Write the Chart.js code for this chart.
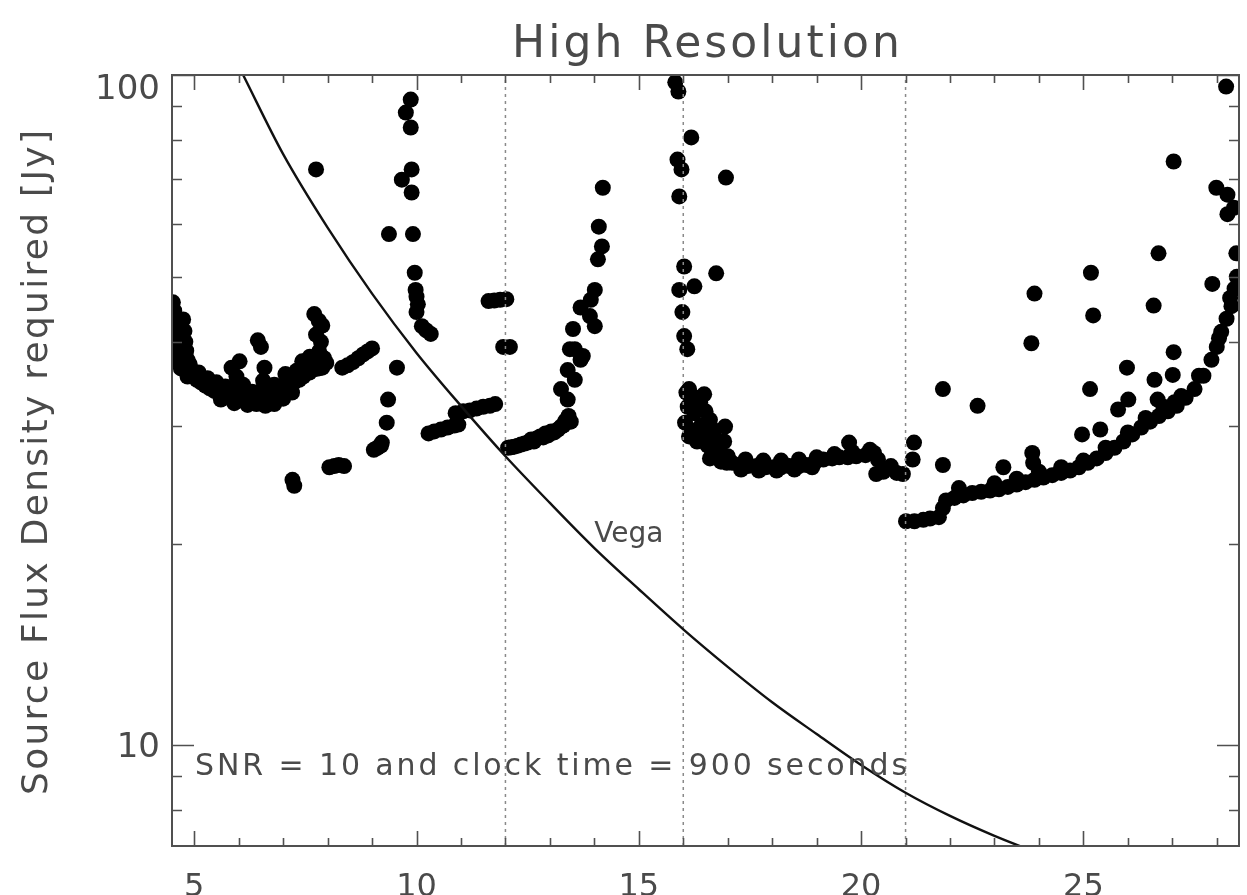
<!DOCTYPE html>
<html>
<head>
<meta charset="utf-8">
<title>High Resolution</title>
<script src="https://cdn.jsdelivr.net/npm/chart.js@4.4.1/dist/chart.umd.min.js"></script>
<style>
  html, body { margin: 0; padding: 0; background: #fff; }
  canvas { display: block; }
</style>
</head>
<body>
<canvas id="chart" width="1247" height="895"></canvas>
<script>
// axis ticks (micron / Jy)
const xTicks = [5, 10, 15, 20, 25];
const yTicks = [10, 100];
const yMinorTicks = [8, 9, 20, 30, 40, 50, 60, 70, 80, 90];
// order boundaries drawn as dotted lines
const orderEdges = [12, 16, 21];

// Vega spectrum
const vegaWave = [6.1, 7, 8, 9, 10, 11, 12, 13, 14, 15, 16, 17, 18, 19, 20, 21, 22, 23, 24];
const vegaJy = [100, 76.2, 59.2, 47.2, 38.5, 32.1, 27.0, 23.0, 19.7, 17.1, 14.9, 13.1, 11.6, 10.4, 9.35, 8.5, 7.85, 7.33, 6.9];

// required source flux per wavelength (black dots)
const fluxWave = [
  // short-wavelength band
  4.52, 4.55, 4.57, 4.60, 4.62, 4.58, 4.62, 4.66, 4.70, 4.75, 4.78, 4.80, 4.82, 4.85, 4.88, 4.93,
  4.52, 4.53, 4.55, 4.60, 4.70, 4.85, 4.68, 4.90, 4.97,
  5.00, 5.06, 5.15, 5.25, 5.35, 5.45, 5.55, 5.64, 5.75, 5.84, 5.96, 6.05, 6.15, 6.25, 6.35, 6.47,
  6.58, 6.68, 6.76, 6.86, 6.98, 7.06, 7.14, 7.25, 7.36, 7.45, 7.52, 7.59, 7.70, 7.80, 7.88, 7.97,
  5.10, 5.30, 5.50, 5.70, 5.90, 6.10, 6.30, 6.50, 6.70, 6.90, 7.10, 7.30, 7.50, 7.70, 7.90,
  5.60, 5.90, 6.20, 6.40, 6.60, 6.80, 7.00, 7.20,
  5.84, 6.02, 5.95, 6.10, 6.43, 6.50, 6.58, 6.55, 6.80, 7.05, 7.30, 7.43, 7.60, 7.70, 7.80, 7.88,
  7.74, 7.85, 7.81, 7.92,
  7.74, 7.21, 7.25, 8.04, 8.15, 8.25, 8.37,
  8.33, 8.45, 8.57, 8.69, 8.80, 8.90, 9.00,
  9.04, 9.12, 9.20, 9.22, 9.33, 9.36, 9.56,
  9.87, 9.76, 9.87, 9.89, 9.67, 9.89, 9.38, 9.92, 9.96, 9.98, 10.00, 10.00, 10.03, 10.12, 10.22, 10.32,
  10.27, 10.40, 10.55, 10.70, 10.85, 10.94,
  10.88, 11.05, 11.20, 11.35, 11.50, 11.65, 11.77,
  11.62, 11.75, 11.88, 12.02, 11.95, 12.10,
  // 12-16 micron order
  12.06, 12.20, 12.35, 12.50, 12.58, 12.70, 12.85, 12.96, 13.10, 13.25, 13.35, 13.47,
  12.13, 12.28, 12.43, 12.64, 12.78, 12.90, 13.03, 13.18, 13.30, 13.42,
  13.40, 13.25, 13.56, 13.40, 13.69, 13.45, 13.74, 13.56, 13.52, 13.69, 13.90, 14.01, 13.92, 14.01,
  14.08, 14.17, 14.10, 14.19,
  // 16-21 micron order
  15.82, 15.89, 16.18, 15.87, 15.96, 16.96, 15.91, 16.02, 16.74, 16.25, 15.91, 15.98, 16.02, 16.09,
  16.13, 16.07, 16.47, 16.38, 16.25, 16.04, 16.60, 16.40, 16.20, 16.13, 16.50, 16.31, 16.94, 16.70,
  16.10, 16.30, 16.50, 16.70, 16.35, 16.55, 16.80, 16.60, 16.85,
  16.92, 16.65, 16.80, 16.98, 17.10, 17.27, 17.45, 17.65, 17.85, 18.03, 18.20, 18.39, 18.60, 18.77,
  18.95, 19.15, 19.35, 19.51, 19.70, 19.89, 20.10, 20.29, 19.73, 20.38, 20.34, 20.50, 20.67, 20.80,
  17.00, 17.40, 17.80, 18.20, 18.60, 19.00, 19.40, 19.80, 20.20, 17.30, 17.70, 18.10, 18.50, 18.90,
  20.94, 21.19, 21.16,
  // long-wavelength order
  21.01, 21.20, 21.40, 21.55, 21.75, 21.84, 21.91, 22.10, 22.30, 22.50, 22.70, 22.90, 23.10, 23.30,
  23.50, 23.70, 23.90, 24.10, 24.30, 24.50, 24.70, 24.90, 25.10, 25.30, 25.50, 25.70, 25.90, 26.10,
  26.30, 26.50, 26.70, 26.90, 27.10, 27.30, 27.50, 27.70, 27.88, 28.00, 28.10, 28.22, 28.33, 28.40,
  28.45,
  22.20, 23.00, 23.50, 24.00, 24.50, 25.00, 25.50, 26.00, 26.40, 26.80, 27.20, 27.60, 28.05, 28.30,
  21.84, 22.62, 21.84, 23.20, 23.85, 23.87, 23.83, 23.90, 24.97, 25.38, 25.15, 25.22, 25.17, 25.78,
  26.01, 25.98, 26.67, 26.60, 26.58, 26.69, 27.05, 27.01, 27.03, 27.03, 27.90, 27.99, 28.24, 28.39,
  28.24, 28.44, 28.21
];
const fluxJy = [
  45.8, 44.5, 43.2, 42.0, 41.0, 40.0, 39.0, 38.0, 37.2, 43.2, 41.5, 40.0, 38.8, 37.6, 36.7, 36.0,
  43.0, 41.0, 39.0, 37.5, 36.5, 35.5, 38.5, 37.0, 35.8,
  35.5, 35.1, 34.8, 34.4, 34.1, 33.8, 33.5, 33.4, 33.2, 33.0, 33.0, 32.8, 32.6, 32.6, 32.8, 33.0,
  32.9, 32.7, 32.6, 33.0, 33.4, 33.9, 34.3, 34.8, 35.1, 35.5, 35.9, 36.0, 36.4, 36.5, 36.6, 37.2,
  36.0, 35.3, 34.8, 34.3, 34.0, 33.8, 33.7, 33.8, 33.9, 34.3, 35.0, 35.8, 36.6, 37.2, 37.8,
  32.8, 32.4, 32.2, 32.3, 32.1, 32.3, 32.9, 33.6,
  36.6, 37.4, 35.5, 34.5, 40.2, 39.3, 36.6, 35.0, 34.5, 35.8, 36.2, 37.4, 38.0, 44.0, 43.0, 42.3,
  41.0, 40.0, 38.7, 37.8,
  72.3, 24.9, 24.4, 26.0, 26.1, 26.2, 26.1,
  36.6, 36.9, 37.3, 37.8, 38.3, 38.7, 39.1,
  27.6, 27.8, 28.0, 28.3, 30.3, 32.8, 36.6,
  91.9, 87.9, 83.5, 72.3, 69.8, 66.8, 57.9, 57.9, 50.7, 47.8, 46.7, 44.3, 45.5, 42.2, 41.6, 41.1,
  29.2, 29.4, 29.6, 29.8, 30.0, 30.1,
  31.3, 31.5, 31.6, 31.8, 32.0, 32.1, 32.3,
  46.0, 46.1, 46.2, 46.3, 39.3, 39.3,
  27.8, 27.9, 28.1, 28.3, 28.6, 28.7, 28.8, 29.0, 29.3, 29.9, 30.5, 30.4,
  27.85, 28.0, 28.2, 28.4, 28.9, 29.2, 29.4, 29.6, 30.0, 31.0,
  32.8, 34.0, 35.1, 36.3, 37.6, 39.0, 38.1, 39.0, 41.8, 45.0, 43.7, 42.2, 46.2, 47.8,
  53.1, 55.5, 59.4, 67.9,
  97.5, 94.5, 80.7, 74.8, 72.3, 70.3, 65.9, 51.8, 50.6, 48.4, 47.8, 44.3, 40.8, 39.0,
  34.0, 33.6, 33.4, 32.5, 31.3, 30.3, 30.6, 30.0, 29.5, 28.9, 29.0, 28.4, 29.9, 28.5,
  32.0, 33.0, 31.5, 29.5, 29.2, 28.0, 28.0, 26.8, 26.5,
  28.4, 27.6, 27.0, 26.4, 26.4, 26.2, 26.1, 26.1, 26.0, 26.0, 26.0, 26.1, 26.1, 26.2,
  26.4, 26.7, 26.8, 26.9, 26.9, 27.0, 27.1, 27.3, 28.3, 26.7, 25.4, 25.6, 26.1, 25.5,
  27.0, 26.7, 26.6, 26.6, 26.7, 26.9, 27.2, 27.4, 27.6, 25.8, 25.7, 25.7, 25.8, 26.0,
  25.4, 28.3, 26.7,
  21.6, 21.6, 21.7, 21.8, 21.9, 22.6, 23.2, 23.4, 23.6, 23.8, 23.9, 24.0, 24.1, 24.3,
  24.5, 24.7, 24.9, 25.1, 25.3, 25.5, 25.7, 26.0, 26.4, 26.8, 27.3, 27.8, 28.4, 29.1,
  29.8, 30.4, 31.0, 31.5, 32.1, 33.0, 34.0, 35.6, 37.6, 39.3, 41.4, 43.3, 45.2, 48.0,
  50.0,
  24.2, 24.6, 25.0, 25.6, 26.0, 26.6, 27.8, 29.3, 30.8, 32.0, 33.2, 35.6, 40.5, 46.5,
  34.0, 32.1, 26.2, 26.0, 27.3, 26.4, 39.8, 47.2, 29.1, 29.6, 34.0, 43.8, 50.7, 31.7,
  32.8, 36.6, 32.8, 35.1, 45.3, 54.2, 32.5, 35.7, 38.6, 74.3, 48.8, 67.9, 66.3, 63.4,
  62.0, 54.2, 96.1
];

const X_MIN = 4.5, X_MAX = 28.5, Y_MIN = 7.08, Y_MAX = 100;
const INK = '#4a4a4a';
const FAMILY = '"DejaVu Sans", "Liberation Sans", sans-serif';

// write text starting at x, stretched or squeezed to a given width
function spacedText(ctx, text, x, y, width) {
  ctx.letterSpacing = '0px';
  const w = ctx.measureText(text).width;
  ctx.letterSpacing = ((width - w) / (text.length - 1)).toFixed(2) + 'px';
  ctx.fillText(text, x, y);
  ctx.letterSpacing = '0px';
}

const idlFrame = {
  id: 'idlFrame',
  afterDatasetsDraw(chart) {
    const { ctx, chartArea: a, scales: { x, y } } = chart;
    ctx.save();
    ctx.strokeStyle = '#505050';
    ctx.lineWidth = 2;
    ctx.strokeRect(a.left, a.top, a.right - a.left, a.bottom - a.top);

    // inward ticks, IDL style
    ctx.lineWidth = 1.6;
    ctx.beginPath();
    for (let v = Math.ceil(X_MIN); v <= X_MAX; v++) {
      const px = Math.round(x.getPixelForValue(v)) + 0.5;
      const len = xTicks.includes(v) ? 15 : 8;
      ctx.moveTo(px, a.bottom); ctx.lineTo(px, a.bottom - len);
      ctx.moveTo(px, a.top); ctx.lineTo(px, a.top + len);
    }
    yTicks.concat(yMinorTicks).forEach(v => {
      const py = Math.round(y.getPixelForValue(v)) + 0.5;
      const len = yTicks.includes(v) ? 22 : 10;
      ctx.moveTo(a.left, py); ctx.lineTo(a.left + len, py);
      ctx.moveTo(a.right, py); ctx.lineTo(a.right - len, py);
    });
    ctx.stroke();

    // y tick labels
    ctx.fillStyle = INK;
    ctx.font = '34px ' + FAMILY;
    ctx.textAlign = 'right';
    ctx.textBaseline = 'middle';
    yTicks.forEach(v => {
      const py = y.getPixelForValue(v) + (v === Y_MAX ? 15 : 3);
      ctx.fillText(String(v), 160, py);
    });

    // titles and notes
    ctx.textAlign = 'left';
    ctx.textBaseline = 'alphabetic';
    ctx.font = '44px ' + FAMILY;
    spacedText(ctx, 'High Resolution', 512, 57, 388);

    ctx.font = '30px ' + FAMILY;
    spacedText(ctx, 'SNR = 10 and clock time = 900 seconds',
      x.getPixelForValue(5.02), y.getPixelForValue(9.04), 712);
    ctx.font = '28px ' + FAMILY;
    ctx.fillText('Vega', x.getPixelForValue(14.0), y.getPixelForValue(20.1));

    ctx.save();
    ctx.translate(47, 795);
    ctx.rotate(-Math.PI / 2);
    ctx.font = '36px ' + FAMILY;
    spacedText(ctx, 'Source Flux Density required [Jy]', 0, 0, 665);
    ctx.restore();
    ctx.restore();
  }
};

const toPoints = (xs, ys) => xs.map((v, i) => ({ x: v, y: ys[i] }));

new Chart(document.getElementById('chart'), {
  type: 'scatter',
  data: {
    datasets: [
      {
        label: 'Vega',
        type: 'line',
        data: toPoints(vegaWave, vegaJy),
        borderColor: '#111',
        borderWidth: 2.4,
        pointRadius: 0,
        cubicInterpolationMode: 'monotone',
        fill: false
      },
      ...orderEdges.map(v => ({
        label: 'edge ' + v,
        type: 'line',
        data: [{ x: v, y: Y_MIN }, { x: v, y: Y_MAX }],
        borderColor: '#8a8a8a',
        borderWidth: 1.5,
        borderDash: [3, 4],
        pointRadius: 0,
        fill: false
      })),
      {
        label: 'Required flux',
        data: toPoints(fluxWave, fluxJy),
        backgroundColor: '#000',
        borderWidth: 0,
        pointRadius: 8,
        pointHoverRadius: 8
      }
    ]
  },
  options: {
    responsive: false,
    animation: false,
    devicePixelRatio: 1,
    layout: { padding: { top: 75, right: 2, left: 0, bottom: 0 } },
    plugins: { legend: { display: false }, tooltip: { enabled: false } },
    scales: {
      x: {
        type: 'linear',
        min: X_MIN,
        max: X_MAX,
        grid: { display: false, drawTicks: false },
        border: { display: false },
        afterBuildTicks: s => { s.ticks = xTicks.map(v => ({ value: v })); },
        afterFit: s => { s.height = 49; },
        ticks: {
          color: INK,
          font: { family: FAMILY, size: 32 },
          padding: 22,
          maxRotation: 0,
          autoSkip: false
        }
      },
      y: {
        type: 'logarithmic',
        min: Y_MIN,
        max: Y_MAX,
        grid: { display: false, drawTicks: false },
        border: { display: false },
        afterBuildTicks: s => { s.ticks = yTicks.map(v => ({ value: v })); },
        afterFit: s => { s.width = 172; },
        ticks: { display: false }
      }
    }
  },
  plugins: [idlFrame]
});
</script>
</body>
</html>
